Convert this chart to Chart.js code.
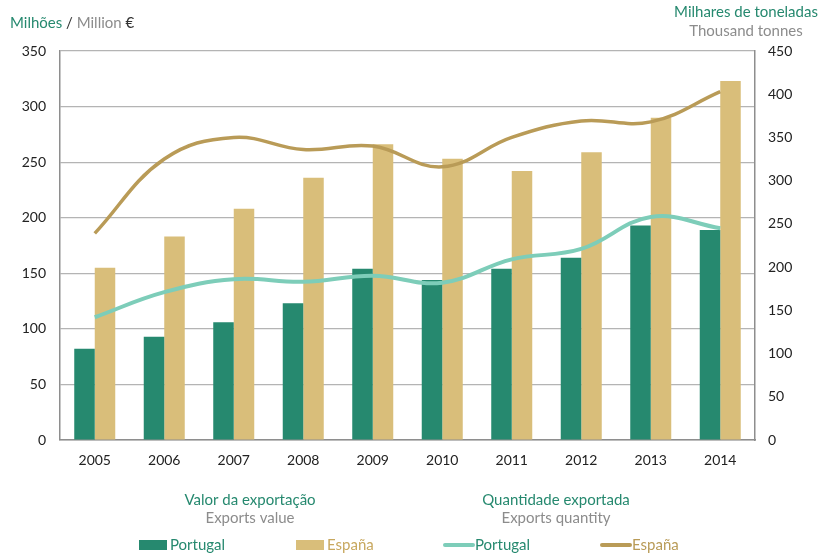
<!DOCTYPE html>
<html>
<head>
<meta charset="utf-8">
<script src="https://cdn.jsdelivr.net/npm/chart.js@4/dist/chart.umd.min.js"></script>
<style>
  html, body { margin: 0; padding: 0; background: #fff; }
  #wrap { position: relative; width: 820px; height: 556px; }
</style>
</head>
<body>
<div id="wrap"><canvas id="exportsChart"></canvas></div>
<script>
// values
const years = ['2005', '2006', '2007', '2008', '2009', '2010', '2011', '2012', '2013', '2014'];
const valuePortugal = [82, 93, 106, 123, 154, 144, 154, 164, 193, 189];
const valueEspana = [155, 183, 208, 236, 266, 253, 242, 259, 290, 323];
const qtyPortugal = [142, 171, 186, 183, 190, 182, 209, 221, 258, 245];
const qtyEspana = [239, 325, 350, 336, 340, 316, 350, 369, 368, 403];

const GREEN = '#26896f';
const TAN = '#d9be7a';
const TEAL = '#7dcdb9';
const BROWN = '#b99b57';
const GREY = '#8c8c8c';
const FONT = 'Lato, "Open Sans", sans-serif';

const decor = {
    id: 'decor',
    afterDraw(chart) {
        const ctx = chart.ctx;
        ctx.save();
        ctx.textBaseline = 'middle';

        // left unit label
        ctx.font = '15px ' + FONT;
        ctx.textAlign = 'left';
        let x = 10;
        const parts = [['Milhões', GREEN], [' / ', '#333'], ['Million', GREY], [' €', '#333']];
        parts.forEach(p => {
            ctx.fillStyle = p[1];
            ctx.fillText(p[0], x, 23);
            x += ctx.measureText(p[0]).width;
        });

        // right unit label
        ctx.textAlign = 'center';
        ctx.fillStyle = GREEN;
        ctx.fillText('Milhares de toneladas', 746, 12);
        ctx.fillStyle = GREY;
        ctx.fillText('Thousand tonnes', 746, 31);

        // group titles
        ctx.fillStyle = GREEN;
        ctx.fillText('Valor da exportação', 250, 500);
        ctx.fillText('Quantidade exportada', 556, 500);
        ctx.fillStyle = GREY;
        ctx.fillText('Exports value', 250, 518);
        ctx.fillText('Exports quantity', 556, 518);

        // legend
        const ds = chart.data.datasets;
        const items = [
            { d: ds[2], x: 139, text: GREEN, bar: true },
            { d: ds[3], x: 296, text: '#c8a85f', bar: true },
            { d: ds[0], x: 444, text: GREEN, bar: false },
            { d: ds[1], x: 601, text: BROWN, bar: false }
        ];
        const ly = 545;
        ctx.textAlign = 'left';
        items.forEach(it => {
            if (it.bar) {
                ctx.fillStyle = it.d.backgroundColor;
                ctx.fillRect(it.x, ly - 5, 28, 10);
            } else {
                ctx.strokeStyle = it.d.borderColor;
                ctx.lineWidth = 4;
                ctx.lineCap = 'round';
                ctx.beginPath();
                ctx.moveTo(it.x + 1, ly);
                ctx.lineTo(it.x + 29, ly);
                ctx.stroke();
            }
            ctx.fillStyle = it.text;
            ctx.fillText(it.d.label, it.x + 31, ly);
        });
        ctx.restore();
    }
};

new Chart(document.getElementById('exportsChart'), {
    type: 'bar',
    data: {
        labels: years,
        datasets: [
            {
                type: 'line', label: 'Portugal', data: qtyPortugal, yAxisID: 'yQty', order: 0,
                borderColor: TEAL, borderWidth: 4, tension: 0.4, pointRadius: 0, fill: false
            },
            {
                type: 'line', label: 'España', data: qtyEspana, yAxisID: 'yQty', order: 0,
                borderColor: BROWN, borderWidth: 3.5, tension: 0.4, pointRadius: 0, fill: false
            },
            {
                label: 'Portugal', data: valuePortugal, yAxisID: 'yVal', order: 1,
                backgroundColor: GREEN, barPercentage: 1, categoryPercentage: 0.59
            },
            {
                label: 'España', data: valueEspana, yAxisID: 'yVal', order: 1,
                backgroundColor: TAN, barPercentage: 1, categoryPercentage: 0.59
            }
        ]
    },
    options: {
        responsive: true,
        maintainAspectRatio: false,
        animation: false,
        layout: { padding: { top: 51, left: 0, right: 0, bottom: 0 } },
        plugins: { legend: { display: false }, tooltip: { enabled: false } },
        scales: {
            x: {
                grid: { display: false, drawTicks: false },
                border: { display: true, color: '#8e8e8e', width: 1.5 },
                ticks: { color: '#222', font: { family: FONT, size: 14 }, padding: 12 },
                afterFit(scale) { scale.height = 116; }
            },
            yVal: {
                position: 'left', min: 0, max: 350,
                grid: { color: '#b4b4b4', lineWidth: 1.2, drawTicks: false },
                border: { display: true, color: '#8e8e8e', width: 1.5 },
                ticks: { stepSize: 50, color: '#222', font: { family: FONT, size: 14 }, padding: 14 },
                afterFit(scale) { scale.width = 60; }
            },
            yQty: {
                position: 'right', min: 0, max: 450,
                grid: { drawOnChartArea: false, drawTicks: false },
                border: { display: true, color: '#8e8e8e', width: 1.5 },
                ticks: { stepSize: 50, color: '#222', font: { family: FONT, size: 14 }, padding: 13 },
                afterFit(scale) { scale.width = 65; }
            }
        }
    },
    plugins: [decor]
});
</script>
</body>
</html>
